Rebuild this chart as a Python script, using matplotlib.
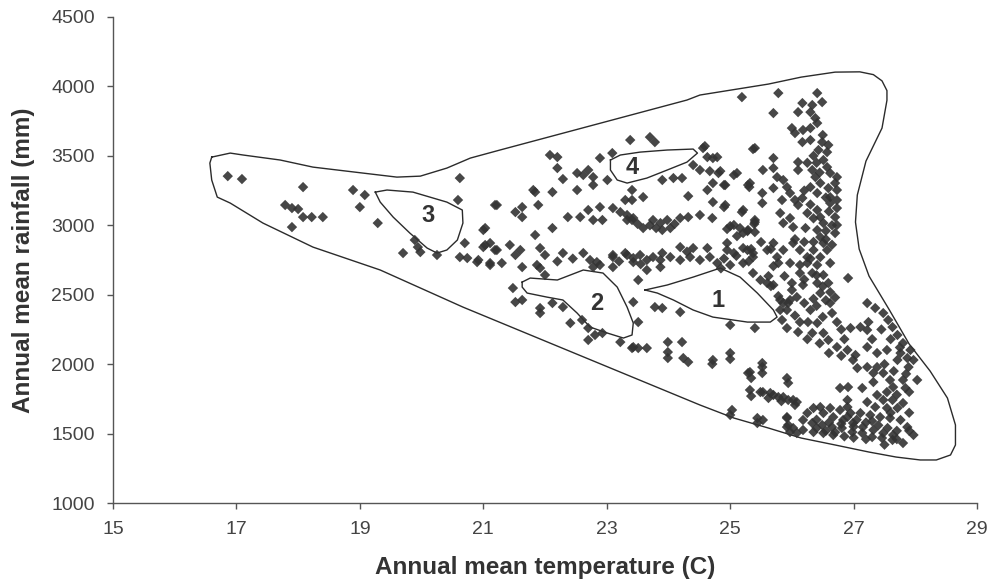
import matplotlib
matplotlib.use("Agg")
import matplotlib.pyplot as plt

plt.rcParams['font.family'] = ['Liberation Sans', 'DejaVu Sans']

# station points: annual mean temperature (C) / annual mean rainfall (mm)
west_pts = [
    (16.86, 3354), (17.09, 3333), (18.08, 3275), (17.79, 3146), (17.90, 3124), (18.00, 3117),
    (18.08, 3059), (18.22, 3059), (18.40, 3059), (17.90, 2987), (18.89, 3254), (19.08, 3218),
    (19.00, 3131), (19.29, 3016), (19.89, 2894), (19.94, 2843), (19.70, 2800), (19.98, 2807),
    (20.25, 2786), (20.62, 3340), (20.59, 3182), (20.70, 2872), (21.00, 2966), (21.03, 2858),
    (21.19, 2822), (20.62, 2771), (20.74, 2764), (20.90, 2735), (21.11, 2728), (21.19, 3146),
]

central_pts = [
    (22.08, 3506), (22.20, 3491), (22.20, 3412), (22.29, 3333), (22.89, 3484), (23.09, 3520),
    (22.52, 3376), (22.62, 3362), (22.70, 3398), (22.78, 3347), (22.78, 3290), (22.52, 3254),
    (23.01, 3326), (21.84, 3239), (22.12, 3239), (21.22, 3146), (21.89, 3146), (21.52, 3095),
    (21.63, 3131), (21.63, 3059), (22.37, 3059), (22.57, 3059), (22.70, 3110), (22.89, 3131),
    (22.78, 3038), (22.93, 3038), (23.10, 3124), (23.22, 3095), (23.33, 3074), (23.43, 3052),
    (21.03, 2980), (21.84, 2930), (22.12, 2980), (21.00, 2843), (21.11, 2872), (21.22, 2822),
    (21.43, 2858), (21.60, 2822), (21.52, 2786), (21.92, 2836), (22.00, 2786), (22.29, 2800),
    (20.92, 2750), (21.11, 2714), (21.30, 2728), (21.63, 2699), (21.87, 2714), (21.92, 2692),
    (22.62, 2800), (22.73, 2750), (22.84, 2735), (22.89, 2714), (22.78, 2699), (23.10, 2786),
    (23.10, 2699), (23.33, 2786), (23.43, 2735), (23.41, 3038), (21.81, 3254),
    (23.38, 3614), (23.70, 3635), (23.78, 3599), (24.59, 3570), (24.63, 3491), (24.79, 3491),
    (24.40, 3434), (24.51, 3398), (23.90, 3326), (24.08, 3340), (24.22, 3340), (24.81, 3376),
    (24.72, 3304), (24.92, 3290), (25.11, 3376), (25.32, 3304), (25.40, 3556), (23.41, 3254),
    (23.30, 3182), (23.41, 3182), (23.59, 3203), (24.32, 3210), (24.92, 3146), (25.21, 3110),
    (23.33, 3038), (23.59, 2980), (23.75, 3038), (23.87, 3016), (23.98, 3038), (24.03, 2980),
    (23.90, 2966), (24.19, 3052), (24.32, 3059), (24.51, 3074), (24.71, 3052), (25.00, 2994),
    (25.16, 2980), (25.29, 2966), (25.40, 3038), (24.19, 2843), (24.40, 2836), (24.63, 2836),
    (24.95, 2872), (24.95, 2822), (25.21, 2836), (25.37, 2800), (23.10, 2771), (23.30, 2800),
    (23.43, 2764), (23.54, 2786), (23.65, 2750), (23.75, 2771), (23.87, 2750), (24.03, 2771),
    (24.19, 2750), (24.35, 2771), (24.51, 2750), (24.67, 2771), (24.79, 2728), (23.65, 2678),
    (23.87, 2699), (23.51, 2606), (25.00, 2714), (25.21, 2728), (25.37, 2656),
    (24.90, 2760), (25.10, 2780), (25.30, 2740), (24.85, 2690), (22.45, 2760), (22.20, 2740),
    (23.20, 2740), (23.90, 2800), (24.30, 2810), (23.55, 2720), (23.70, 3000), (23.80, 2980),
    (24.10, 3010), (23.50, 3010),
]

south_pts = [
    (22.00, 2642), (21.48, 2548), (21.52, 2447), (21.63, 2462), (21.92, 2404), (21.92, 2368),
    (22.12, 2440), (22.29, 2411), (22.41, 2296), (22.60, 2318), (22.70, 2260), (22.81, 2210),
    (22.70, 2174), (22.93, 2224), (23.43, 2447), (23.51, 2303), (23.22, 2159), (23.41, 2116),
    (23.51, 2116), (23.78, 2411), (23.90, 2404), (23.99, 2159), (23.99, 2087), (23.99, 2044),
    (24.19, 2375), (25.00, 2282), (25.40, 2260), (25.84, 2318), (25.92, 2260), (24.22, 2159),
    (24.24, 2044), (24.32, 2015), (24.72, 2030), (25.00, 2080), (25.32, 1943), (25.52, 2008),
    (25.52, 1936), (25.92, 1900), (25.32, 1814), (25.53, 1799), (25.70, 1778), (25.86, 1763),
    (26.02, 1742), (25.03, 1670), (25.44, 1612), (25.92, 1612), (25.92, 1547), (23.43, 2123),
    (23.65, 2116),
]

east_pts = [
    (25.78, 3952), (25.70, 3808), (25.37, 3549), (25.70, 3484), (25.19, 3923), (26.41, 3952),
    (26.49, 3887), (26.17, 3880), (26.33, 3866), (26.10, 3815), (26.30, 3815), (26.38, 3772),
    (26.41, 3736), (26.00, 3700), (26.05, 3664), (26.18, 3686), (26.30, 3700), (26.17, 3599),
    (26.30, 3614), (26.49, 3599), (26.59, 3578), (26.43, 3542), (26.57, 3527), (26.51, 3470),
    (26.57, 3419), (26.10, 3455), (26.10, 3398), (25.70, 3412), (25.53, 3398), (25.76, 3347),
    (25.86, 3326), (25.70, 3268), (25.52, 3232), (25.52, 3160), (25.29, 3290), (25.92, 3275),
    (25.97, 3232), (25.84, 3182), (26.05, 3182), (26.17, 3196), (26.10, 3146), (26.33, 3398),
    (26.38, 3347), (26.46, 3304), (26.30, 3275), (26.41, 3232), (26.62, 3376), (26.73, 3347),
    (26.70, 3304), (26.59, 3268), (26.73, 3254), (26.62, 3203), (26.73, 3182), (26.62, 3160),
    (26.73, 3124), (26.70, 3059), (26.73, 3002), (26.70, 2944), (26.41, 3110), (26.46, 3059),
    (26.51, 3016), (26.41, 2966), (26.46, 2915), (26.51, 2872), (26.25, 3088), (26.22, 2980),
    (25.97, 3052), (25.81, 3088), (25.86, 3016), (26.02, 2987), (25.40, 3023), (25.21, 2944),
    (25.40, 2951), (25.70, 2872), (25.60, 2822), (25.76, 2771), (25.86, 2822), (26.02, 2872),
    (26.13, 2822), (26.25, 2771), (26.35, 2822), (26.46, 2771), (26.57, 2822), (26.41, 2714),
    (26.13, 2714), (25.97, 2728), (25.28, 2822), (25.37, 2771),
    (26.25, 2728), (26.62, 2728), (26.13, 2656), (26.33, 2656), (26.51, 2642), (26.00, 2584),
    (26.18, 2570), (26.41, 2584), (26.59, 2584), (26.91, 2620), (26.46, 2512), (26.62, 2519),
    (26.62, 2440), (26.65, 2368), (26.73, 2303), (26.08, 2483), (25.97, 2462), (25.86, 2440),
    (25.81, 2390), (25.92, 2390), (26.30, 2390), (26.13, 2303), (26.26, 2303), (26.41, 2296),
    (26.10, 2231), (26.33, 2224), (26.51, 2224), (26.59, 2174), (26.73, 2123), (26.90, 2102),
    (27.03, 2066), (26.99, 2030), (27.06, 1972), (27.22, 1979), (27.32, 1936), (27.38, 1979),
    (27.22, 2123), (27.38, 2080), (27.54, 2102), (26.95, 2260), (27.11, 2267), (27.24, 2303),
    (27.22, 2246), (27.22, 2440), (27.35, 2404), (27.48, 2368), (27.56, 2318), (27.63, 2267),
    (27.71, 2210), (27.80, 2152), (27.92, 2102), (27.87, 2044), (27.97, 2030), (27.76, 2080),
    (27.71, 2030), (27.89, 1979), (28.03, 1886), (27.80, 1886), (27.84, 1828), (27.64, 1835),
    (27.54, 1799), (27.38, 1778), (27.48, 1742), (27.63, 1742), (27.80, 1720), (27.71, 1684),
    (27.54, 1684), (27.35, 1691), (27.22, 1727), (27.14, 1828), (27.32, 1871), (26.78, 1828),
    (26.91, 1835), (26.90, 1742), (26.90, 1691), (26.95, 1648), (27.11, 1648), (27.27, 1634),
    (27.43, 1619), (27.59, 1612), (27.76, 1598), (27.87, 1547), (27.97, 1490), (27.80, 1432),
    (27.64, 1490), (27.48, 1504), (27.32, 1526), (27.15, 1547), (26.99, 1576), (26.83, 1598),
    (26.67, 1619), (26.51, 1648), (26.35, 1684), (26.25, 1648), (26.18, 1598), (26.33, 1576),
    (26.49, 1562), (26.65, 1547), (26.81, 1540), (26.98, 1511), (27.14, 1504), (27.30, 1475),
    (27.46, 1468), (27.63, 1454), (26.67, 1490), (26.51, 1504), (26.35, 1511), (26.18, 1526),
    (26.02, 1540), (26.08, 1504), (26.78, 1670), (26.62, 1684), (26.46, 1691), (27.48, 1936),
    (27.59, 1886), (25.29, 1936), (25.49, 1799), (25.65, 1792), (25.78, 1763), (25.94, 1742),
    (26.08, 1727), (25.53, 1598), (25.92, 1619), (25.60, 2584), (25.70, 2570), (25.49, 2606),
    (25.81, 2462),
    (25.50, 2879), (25.66, 2829), (25.78, 2728), (25.88, 2634), (26.00, 2534), (25.94, 2440),
    (25.78, 2490), (25.66, 2562), (25.62, 2634), (25.70, 2706), (24.95, 2973), (25.11, 2922),
    (25.28, 2958), (25.34, 2829), (25.06, 2800), (24.56, 3556), (24.72, 3484), (24.67, 3390),
    (24.90, 3290), (25.06, 3362), (25.31, 3275), (24.90, 3131), (25.19, 3095), (25.39, 3009),
    (25.06, 3002), (24.71, 2001), (25.00, 2037), (25.34, 1900), (25.52, 1979), (25.94, 1864),
    (25.34, 1770), (25.62, 1756), (25.83, 1734), (26.05, 1706), (25.00, 1634), (25.44, 1576),
    (25.94, 1562), (25.97, 1511), (24.84, 3390), (24.63, 3254), (24.72, 3167),
    # densest core east of 26 C
    (26.05, 2900), (26.20, 2880), (26.35, 2880), (26.55, 2900), (26.65, 2860), (26.30, 2760),
    (26.40, 2640), (26.20, 2610), (26.50, 2560), (26.70, 2480), (26.55, 2460), (26.35, 2470),
    (26.20, 2440), (26.40, 2420), (26.05, 2350), (26.50, 2340), (26.80, 2250), (26.85, 2180),
    (26.25, 2180), (26.45, 2150), (26.60, 2080), (26.80, 2060), (26.40, 1600), (26.60, 1580),
    (26.80, 1570), (27.00, 1550), (27.20, 1580), (27.40, 1560), (27.55, 1540), (27.70, 1520),
    (27.90, 1520), (27.20, 1460), (27.00, 1470), (26.85, 1480), (27.50, 1420), (27.70, 1460),
    (26.40, 1540), (26.55, 1520), (26.70, 1510), (26.90, 1620), (27.05, 1600), (27.30, 1590),
    (26.50, 3650), (26.35, 3500), (26.45, 3380), (26.55, 3200), (26.60, 3100), (26.65, 3000),
    (26.55, 2960), (26.35, 3050), (26.30, 3150), (26.20, 3250), (26.25, 3450), (26.40, 3450),
    (27.45, 2250), (27.60, 2180), (27.75, 2120), (27.30, 2180), (27.50, 2000), (27.65, 1950),
    (27.85, 1930), (27.70, 1780), (27.90, 1800), (27.90, 1650), (27.60, 1650),
]

# outer envelope of all stations
envelope_t = [16.60, 16.90, 17.11, 17.71, 18.24, 19.05, 19.60, 19.98, 20.41, 20.79, 21.27, 24.30,
              24.51, 25.62, 26.15, 26.70, 27.10, 27.32, 27.46, 27.54, 27.54, 27.46, 27.20, 27.06,
              27.03, 27.09, 27.25, 27.58, 27.90, 28.24, 28.52, 28.65, 28.65, 28.57, 28.34, 28.08,
              27.69, 27.25, 26.70, 26.15, 25.62, 25.06, 24.51, 22.08, 20.67, 19.33, 18.24, 17.43,
              16.90, 16.69, 16.60, 16.57, 16.60]
envelope_r = [3491, 3520, 3506, 3470, 3419, 3376, 3347, 3354, 3412, 3484, 3542, 3902,
              3938, 4017, 4067, 4103, 4105, 4085, 4040, 3970, 3900, 3700, 3462, 3218,
              3023, 2829, 2634, 2390, 2145, 1950, 1756, 1562, 1418, 1346, 1310, 1310,
              1331, 1367, 1418, 1468, 1540, 1612, 1706, 2152, 2411, 2678, 2843, 3016,
              3160, 3203, 3326, 3448, 3491]

# climatic zones 1-4
zone_t = {
    '1': [23.62, 23.98, 24.40, 24.84, 25.16, 25.44, 25.70, 25.76, 25.65, 25.28, 24.72, 24.40, 24.08, 23.82, 23.62],
    '2': [21.63, 21.76, 22.20, 22.62, 22.94, 23.17, 23.33, 23.43, 23.41, 23.27, 23.01, 22.73, 22.52, 22.29, 22.03, 21.71, 21.63, 21.63],
    '3': [19.25, 19.44, 19.86, 20.41, 20.66, 20.67, 20.58, 20.41, 20.25, 20.09, 19.81, 19.54, 19.33, 19.25],
    '4': [23.06, 23.22, 23.54, 23.98, 24.40, 24.47, 24.30, 23.98, 23.65, 23.33, 23.17, 23.06, 23.06],
}
zone_r = {
    '1': [2534, 2570, 2627, 2692, 2627, 2512, 2390, 2339, 2303, 2303, 2339, 2390, 2462, 2512, 2534],
    '2': [2591, 2620, 2606, 2678, 2656, 2555, 2411, 2296, 2210, 2188, 2224, 2267, 2368, 2462, 2483, 2512, 2555, 2591],
    '3': [3239, 3254, 3239, 3167, 3110, 3016, 2894, 2822, 2800, 2836, 2944, 3059, 3167, 3239],
    '4': [3470, 3506, 3527, 3542, 3549, 3520, 3455, 3398, 3340, 3304, 3326, 3398, 3470],
}
zone_label_pos = {'1': (24.81, 2462), '2': (22.84, 2440), '3': (20.11, 3074), '4': (23.41, 3419)}


def main():
    fig = plt.figure(figsize=(9.97, 5.86), dpi=100)
    ax = fig.add_axes([0.1133, 0.1416, 0.8667, 0.8294])

    all_pts = west_pts + central_pts + south_pts + east_pts
    t = [p[0] for p in all_pts]
    r = [p[1] for p in all_pts]
    ax.scatter(t, r, marker='D', s=28, color='#333333', edgecolors='none', alpha=0.9, zorder=3)

    ax.plot(envelope_t, envelope_r, color='#2b2b2b', lw=1.0, zorder=2)
    for k in zone_t:
        ax.plot(zone_t[k], zone_r[k], color='#2b2b2b', lw=1.0, zorder=2)
        lx, ly = zone_label_pos[k]
        ax.text(lx, ly, k, ha='center', va='center', fontsize=17, fontweight='bold',
                color='#333333', zorder=4)

    ax.set_xlim(15, 29)
    ax.set_ylim(1000, 4500)
    ax.set_xticks(range(15, 30, 2))
    ax.set_yticks(range(1000, 4501, 500))

    for s in ['top', 'right']:
        ax.spines[s].set_visible(False)
    for s in ['left', 'bottom']:
        ax.spines[s].set_color('#555555')
        ax.spines[s].set_linewidth(1.0)
    ax.tick_params(direction='out', length=4, width=1, color='#555555',
                   labelsize=14, labelcolor='#444444', pad=9)

    ax.set_xlabel('Annual mean temperature (C)', fontsize=17.5, fontweight='bold',
                  color='#333333', labelpad=13)
    ax.set_ylabel('Annual mean rainfall (mm)', fontsize=17.5, fontweight='bold',
                  color='#333333', labelpad=12)

    fig.savefig('out.png', dpi=100)


if __name__ == "__main__":
    main()
